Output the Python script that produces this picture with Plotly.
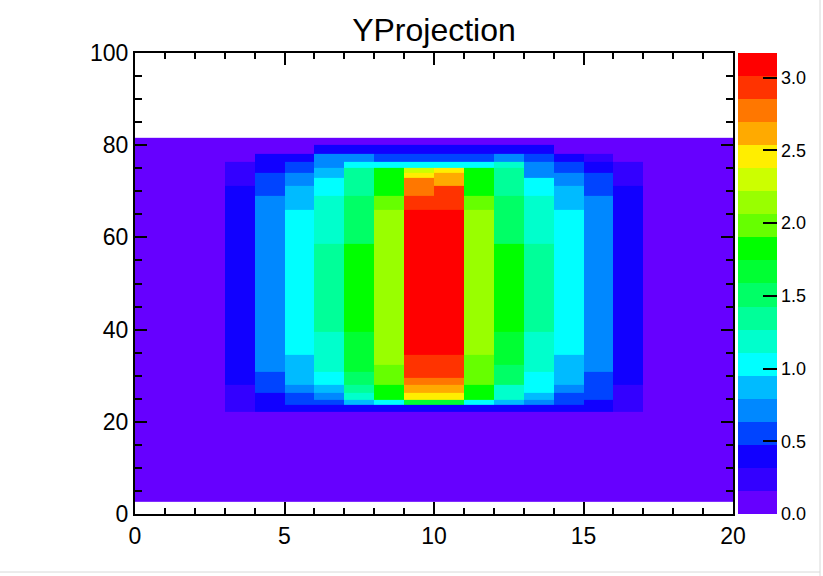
import plotly.graph_objects as go

# x bin edges (20 bins of width 1)
x_edges = [0, 1, 2, 3, 4, 5, 6, 7, 8, 9, 10, 11, 12, 13, 14, 15, 16, 17, 18, 19, 20]

# y bin edges (bottom to top)
y_edges = [2.67, 22.1, 23.6, 24.7, 26.2, 28.0, 29.5, 30.8, 32.3, 34.5, 39.5,
           58.6, 65.9, 69.0, 71.1, 72.9, 74.0, 75.2, 76.4, 78.2, 80.0, 81.6]

# bin contents, one row per y bin (bottom to top), 20 x bins each
z_rows = [
    [0.08, 0.08, 0.08, 0.08, 0.08, 0.08, 0.08, 0.08, 0.08, 0.08, 0.08, 0.08, 0.08, 0.08, 0.08, 0.08, 0.08, 0.08, 0.08, 0.08],
    [0.08, 0.08, 0.08, 0.24, 0.40, 0.40, 0.40, 0.40, 0.40, 0.40, 0.40, 0.40, 0.40, 0.40, 0.40, 0.40, 0.24, 0.08, 0.08, 0.08],
    [0.08, 0.08, 0.08, 0.24, 0.40, 0.56, 0.56, 0.87, 1.03, 1.67, 1.67, 1.03, 0.87, 0.71, 0.56, 0.40, 0.24, 0.08, 0.08, 0.08],
    [0.08, 0.08, 0.08, 0.24, 0.40, 0.56, 0.71, 1.19, 1.83, 2.46, 2.46, 1.83, 1.19, 0.87, 0.56, 0.56, 0.24, 0.08, 0.08, 0.08],
    [0.08, 0.08, 0.08, 0.24, 0.56, 0.71, 0.87, 1.35, 1.83, 2.62, 2.62, 1.83, 1.19, 1.03, 0.71, 0.56, 0.24, 0.08, 0.08, 0.08],
    [0.08, 0.08, 0.08, 0.40, 0.56, 0.87, 1.03, 1.51, 1.98, 2.78, 2.78, 1.98, 1.51, 1.03, 0.87, 0.56, 0.40, 0.08, 0.08, 0.08],
    [0.08, 0.08, 0.08, 0.40, 0.56, 0.87, 1.03, 1.51, 1.98, 2.94, 2.94, 1.98, 1.51, 1.03, 0.87, 0.56, 0.40, 0.08, 0.08, 0.08],
    [0.08, 0.08, 0.08, 0.40, 0.71, 0.87, 1.19, 1.67, 1.98, 2.94, 2.94, 1.98, 1.51, 1.19, 0.87, 0.71, 0.40, 0.08, 0.08, 0.08],
    [0.08, 0.08, 0.08, 0.40, 0.71, 0.87, 1.19, 1.67, 2.14, 2.94, 2.94, 1.98, 1.67, 1.19, 0.87, 0.71, 0.40, 0.08, 0.08, 0.08],
    [0.08, 0.08, 0.08, 0.40, 0.71, 1.03, 1.19, 1.67, 2.14, 3.10, 3.10, 2.14, 1.67, 1.19, 1.03, 0.71, 0.40, 0.08, 0.08, 0.08],
    [0.08, 0.08, 0.08, 0.40, 0.71, 1.03, 1.35, 1.83, 2.14, 3.10, 3.17, 2.14, 1.83, 1.35, 1.03, 0.71, 0.40, 0.08, 0.08, 0.08],
    [0.08, 0.08, 0.08, 0.40, 0.71, 1.03, 1.19, 1.51, 2.14, 3.10, 3.10, 2.14, 1.51, 1.19, 1.03, 0.71, 0.40, 0.08, 0.08, 0.08],
    [0.08, 0.08, 0.08, 0.40, 0.71, 0.87, 1.19, 1.51, 1.98, 2.94, 2.94, 1.98, 1.51, 1.19, 0.87, 0.71, 0.40, 0.08, 0.08, 0.08],
    [0.08, 0.08, 0.08, 0.40, 0.56, 0.87, 1.03, 1.35, 1.83, 2.78, 2.94, 1.83, 1.35, 1.03, 0.87, 0.56, 0.40, 0.08, 0.08, 0.08],
    [0.08, 0.08, 0.08, 0.24, 0.56, 0.71, 1.03, 1.35, 1.83, 2.78, 2.62, 1.83, 1.35, 1.03, 0.71, 0.56, 0.24, 0.08, 0.08, 0.08],
    [0.08, 0.08, 0.08, 0.24, 0.56, 0.71, 0.87, 1.35, 1.83, 2.46, 2.62, 1.83, 1.35, 0.71, 0.71, 0.56, 0.24, 0.08, 0.08, 0.08],
    [0.08, 0.08, 0.08, 0.24, 0.40, 0.56, 0.87, 1.35, 1.83, 2.30, 2.46, 1.83, 1.35, 0.71, 0.56, 0.40, 0.24, 0.08, 0.08, 0.08],
    [0.08, 0.08, 0.08, 0.24, 0.40, 0.56, 0.71, 1.03, 1.03, 1.03, 1.03, 1.03, 1.19, 0.71, 0.56, 0.40, 0.24, 0.08, 0.08, 0.08],
    [0.08, 0.08, 0.08, 0.08, 0.40, 0.40, 0.71, 0.71, 0.56, 0.56, 0.56, 0.56, 0.71, 0.56, 0.40, 0.24, 0.08, 0.08, 0.08, 0.08],
    [0.08, 0.08, 0.08, 0.08, 0.08, 0.08, 0.40, 0.40, 0.40, 0.40, 0.40, 0.40, 0.40, 0.40, 0.08, 0.08, 0.08, 0.08, 0.08, 0.08],
    [0.08, 0.08, 0.08, 0.08, 0.08, 0.08, 0.08, 0.08, 0.08, 0.08, 0.08, 0.08, 0.08, 0.08, 0.08, 0.08, 0.08, 0.08, 0.08, 0.08],
]

z_min = 0.0
z_max = 3.17

# palette: 20 contour levels, bottom to top
palette = ["#6600ff", "#3300ff", "#1100ff", "#0044ff", "#0088ff", "#00bbff", "#00ffff",
           "#00ffcc", "#00ff99", "#00ff66", "#00ff33", "#00ff00", "#66ff00", "#99ff00",
           "#ccff00", "#ffee00", "#ffaa00", "#ff7700", "#ff3300", "#ff0000"]

x_ticks = [0, 5, 10, 15, 20]
y_ticks = [0, 20, 40, 60, 80, 100]
z_ticks = [0.0, 0.5, 1.0, 1.5, 2.0, 2.5, 3.0]
z_ticktext = ["0.0", "0.5", "1.0", "1.5", "2.0", "2.5", "3.0"]

n = len(palette)
colorscale = []
for i, c in enumerate(palette):
    colorscale.append([i / n, c])
    colorscale.append([(i + 1) / n, c])

FONT = "Liberation Sans, Arial, Helvetica, sans-serif"

fig = go.Figure(go.Heatmap(
    x=x_edges, y=y_edges, z=z_rows,
    zmin=z_min, zmax=z_max, colorscale=colorscale, zsmooth=False,
    colorbar=dict(
        x=1.0084, xanchor="left", y=0.5, yanchor="middle",
        len=1.0, lenmode="fraction", thickness=39, thicknessmode="pixels",
        xpad=0, ypad=0, outlinewidth=0,
        ticks="inside", ticklen=14, tickwidth=1.5, tickcolor="black",
        tickmode="array", tickvals=z_ticks, ticktext=z_ticktext,
        tickfont=dict(family=FONT, size=18, color="black"),
    ),
    hoverinfo="skip",
))

fig.update_layout(
    width=823, height=576,
    margin=dict(l=135, r=90, t=53, b=62, autoexpand=False),
    paper_bgcolor="white", plot_bgcolor="white",
    title=dict(text="YProjection", x=0.5, xref="paper", xanchor="center",
               y=1 - 30 / 576, yref="container", yanchor="middle",
               font=dict(family=FONT, size=32, color="black")),
    xaxis=dict(range=[0, 20], tickmode="array", tickvals=x_ticks,
               ticks="inside", ticklen=12, tickwidth=1.5, tickcolor="black",
               showline=True, linewidth=2, linecolor="black", mirror="ticks",
               showgrid=False, zeroline=False,
               minor=dict(dtick=1, tick0=0, ticks="inside", ticklen=6, tickwidth=1.5,
                          tickcolor="black", showgrid=False),
               tickfont=dict(family=FONT, size=23, color="black")),
    yaxis=dict(range=[0, 100], tickmode="array", tickvals=y_ticks,
               ticks="inside", ticklen=12, tickwidth=1.5, tickcolor="black",
               showline=True, linewidth=2, linecolor="black", mirror="ticks",
               showgrid=False, zeroline=False,
               minor=dict(dtick=5, tick0=0, ticks="inside", ticklen=7, tickwidth=1.5,
                          tickcolor="black", showgrid=False),
               tickfont=dict(family=FONT, size=23, color="black")),
    shapes=[
        dict(type="line", xref="paper", yref="paper", x0=(820 - 135) / 598, x1=(820 - 135) / 598,
             y0=(514 - 576) / 461, y1=(514 - 0) / 461, line=dict(color="#d8d8d8", width=1)),
        dict(type="line", xref="paper", yref="paper", x0=(0 - 135) / 598, x1=(820 - 135) / 598,
             y0=(514 - 572) / 461, y1=(514 - 572) / 461, line=dict(color="#d8d8d8", width=1)),
    ],
)

fig.write_html("out.html")
